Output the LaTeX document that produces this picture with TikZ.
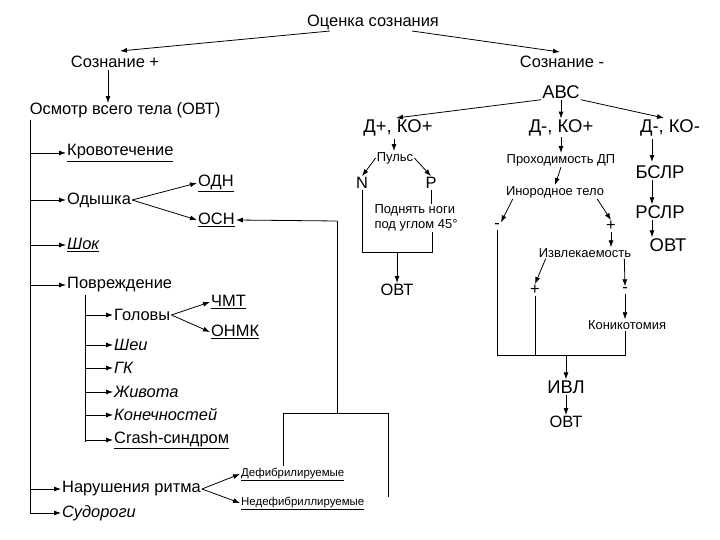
\documentclass[tikz,border=0pt]{standalone}
\usepackage{fontspec}
\setmainfont{Liberation Sans}
\usetikzlibrary{arrows.meta}
\begin{document}
\begin{tikzpicture}[x=1bp,y=-1bp,
  t/.style={inner sep=1pt,font=\fontsize{16.5}{18}\selectfont},
  tb/.style={inner sep=1pt,font=\fontsize{18.5}{20}\selectfont},
  ts/.style={inner sep=1pt,font=\fontsize{13}{15}\selectfont},
  tx/.style={inner sep=1pt,font=\fontsize{11.5}{13}\selectfont},
  it/.style={font=\fontsize{16.5}{18}\selectfont\itshape},
  ar/.style={-{Latex[length=7pt,width=5pt]},thick},
  ln/.style={line width=0.7pt}]
\useasboundingbox (0,0) rectangle (720,540);
% top
\node[t] (top) at (373,22) {Оценка сознания};
\node[t] (sp) at (115,62) {Сознание +};
\node[t] (sm) at (562,62) {Сознание -};
\node[tb] (abc) at (561,92) {АВС};
\node[t] (ovt) at (125,110) {Осмотр всего тела (ОВТ)};
\draw[ar] (330,31) -- (120,51);
\draw[ar] (412,31) -- (560,52);
\draw[ar] (108,70) -- (108,103);
% left tree
\coordinate (lt) at (30,120);
\coordinate (lb) at (30,514);
\draw[ln] (lt) -- (lb);
\node[t,anchor=west] (krov) at (66,153) {\underline{Кровотечение}};
\node[t,anchor=west] (odysh) at (66,200) {Одышка};
\node[t,it,anchor=west] (shok) at (66,245) {\underline{Шок}};
\node[t,anchor=west] (povr) at (66,285) {Повреждение};
\node[t,anchor=west] (nar) at (61,489) {Нарушения ритма};
\node[t,it,anchor=west] (sud) at (61,513) {Судороги};
\foreach \n/\y in {krov/153,odysh/200,shok/245,povr/285,nar/489,sud/513}
  \draw[ar] (30,\y) -- (\n.west);
\node[t,anchor=west] (odn) at (197,183) {\underline{ОДН}};
\node[t,anchor=west] (osn) at (197,220) {\underline{ОСН}};
\draw[ar] (odysh.east) -- (odn.west);
\draw[ar] (odysh.east) -- (osn.west);
% povrezhdenie
\draw[ln] (85,295) -- (85,442);
\node[t,anchor=west] (gol) at (113,315) {Головы};
\node[t,it,anchor=west] (shei) at (113,345) {Шеи};
\node[t,it,anchor=west] (gk) at (113,368) {ГК};
\node[t,it,anchor=west] (zhiv) at (113,392) {Живота};
\node[t,it,anchor=west] (kon) at (113,415) {Конечностей};
\node[t,anchor=west] (crash) at (113,440) {\underline{Crash-синдром}};
\foreach \n/\y in {gol/315,shei/345,gk/368,zhiv/392,kon/415,crash/440}
  \draw[ar] (85,\y) -- (\n.west);
\node[t,anchor=west] (cmt) at (210,302) {\underline{ЧМТ}};
\node[t,anchor=west] (onmk) at (210,332) {\underline{ОНМК}};
\draw[ar] (gol.east) -- (cmt.west);
\draw[ar] (gol.east) -- (onmk.west);
% rhythm
\node[tx,anchor=west] (defib) at (240,474) {\underline{Дефибрилируемые}};
\node[tx,anchor=west] (nedef) at (240,503) {\underline{Недефибриллируемые}};
\draw[ar] (nar.east) -- (defib.west);
\draw[ar] (nar.east) -- (nedef.west);
\coordinate (b1) at (283,413);
\coordinate (b2) at (388,413);
\coordinate (c1) at (337,413);
\coordinate (c2) at (337,221);
\draw[ln] (283,466) -- (b1) -- (b2) -- (388,497);
\draw[ln] (c1) -- (c2);
\draw[ar] (c2) -- (osn.east);
% ABC branches
\node[tb] (dp) at (398,128) {Д+, КО+};
\node[tb] (dm) at (561,128) {Д-, КО+};
\node[tb] (dmm) at (670,128) {Д-, КО-};
\draw[ar] (abc.south west) -- (396,118);
\draw[ar] (abc.south) -- (dm.north);
\draw[ar] (abc.south east) -- (664,118);
% pulse
\node[ts] (puls) at (395,158) {Пульс};
\node[t] (N) at (362,183) {N};
\node[t] (P) at (431,183) {P};
\coordinate (dps) at (394,139);
\coordinate (pn) at (394,151);
\draw[ar] (dps) -- (pn);
\draw[ar] (puls.west) -- (N.north);
\draw[ar] (puls.east) -- (P.north);
\node[ts,align=left] (legs) at (416,218) {Поднять ноги\\под углом 45°};
\node[t] (ovt2) at (397,290) {ОВТ};
\coordinate (nb) at (362,252);
\coordinate (pb) at (432,252);
\coordinate (mb) at (397,252);
\draw[ln] (N.south) -- (nb) -- (pb) -- (legs.south -| pb);
\draw[ln] (P.south) -- (legs.north -| P);
\draw[ar] (mb) -- (ovt2.north);
% airway
\node[ts] (prox) at (561,160) {Проходимость ДП};
\node[ts] (inor) at (555,192) {Инородное тело};
\node[t] (m1) at (497,226) {-};
\node[t] (p1) at (611,226) {+};
\node[ts] (izv) at (585,253) {Извлекаемость};
\node[t] (p2) at (535,290) {+};
\node[t] (m2) at (625,290) {-};
\node[ts] (konik) at (627,325) {Коникотомия};
\node[tb] (ivl) at (566,387) {ИВЛ};
\node[t] (ovt3) at (566,422) {ОВТ};
\draw[ar] (dm.south) -- (prox.north);
\draw[ar] (prox.south) -- (inor.north);
\draw[ar] ([xshift=8pt]inor.south west) -- (m1.north east);
\draw[ar] ([xshift=-8pt]inor.south east) -- (p1.north);
\draw[ar] (p1.south) -- (p1.south |- izv.north);
\draw[ar] ([xshift=8pt]izv.south west) -- (p2.north);
\draw[ar] ([xshift=-8pt]izv.south east) -- (m2.north);
\draw[ar] (m2.south) -- (konik.north -| m2);
\coordinate (aL) at (497,355);
\coordinate (aR) at (625,355);
\coordinate (aM) at (566,355);
\draw[ln] (m1.south) -- (aL) -- (aR) -- (konik.south -| aR);
\draw[ln] (p2.south) -- (p2.south |- aL);
\draw[ar] (aM) -- (ivl.north);
\draw[ar] (ivl.south) -- (ovt3.north);
% D-,KO-
\node[tb] (bslr) at (660,172) {БСЛР};
\node[tb] (rslr) at (660,212) {РСЛР};
\node[tb] (ovt4) at (668,245) {ОВТ};
\coordinate (k1) at (652,139);
\coordinate (k2) at (652,162);
\draw[ar] (k1) -- (k2);
\draw[ar] (bslr.south -| k1) -- (rslr.north -| k1);
\draw[ar] (rslr.south -| k1) -- (ovt4.north -| k1);
\end{tikzpicture}
\end{document}
